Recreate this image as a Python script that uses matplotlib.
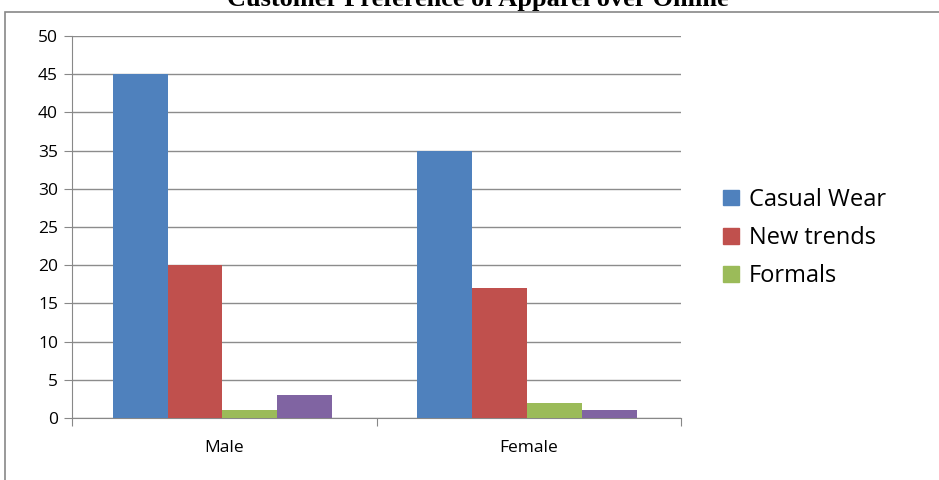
import matplotlib.pyplot as plt
from matplotlib.patches import Patch, Rectangle
import numpy as np

categories = ["Male", "Female"]
series_names = ["Casual Wear", "New trends", "Formals", ""]
casual_wear = [45, 35]
new_trends = [20, 17]
formals = [1, 2]
other = [3, 1]
colors = ["#4F81BD", "#C0504D", "#9BBB59", "#8064A2"]

plt.rcParams["font.family"] = ["Open Sans", "DejaVu Sans"]

fig = plt.figure(figsize=(9.39, 4.8), dpi=100)
ax = fig.add_axes([72 / 939, 1 - 418 / 480, (681 - 72) / 939, (418 - 36) / 480])

x = np.arange(len(categories))
w = 0.18
values = [casual_wear, new_trends, formals, other]
for i, (vals, c) in enumerate(zip(values, colors)):
    ax.bar(x + (i - 1.5) * w - 0.006, vals, w, color=c, zorder=3)

ax.set_xlim(-0.5, 1.5)
ax.set_ylim(0, 50)
ax.set_yticks(range(0, 51, 5))
ax.set_xticks([-0.5, 0.5, 1.5])
ax.set_xticklabels([])
ax.set_xticks(x, minor=True)
ax.set_xticklabels(categories, minor=True)
ax.tick_params(axis="x", which="minor", length=0, pad=16, labelsize=12.5)
ax.tick_params(axis="x", which="major", length=6, color="#888888", direction="out")
ax.tick_params(axis="y", length=6, color="#888888", labelsize=12.5, pad=4)
ax.grid(axis="y", color="#8c8c8c", lw=1, zorder=0)
for s in ["top", "right"]:
    ax.spines[s].set_visible(False)
for s in ["left", "bottom"]:
    ax.spines[s].set_color("#888888")

handles = [Patch(color=c) for c in colors[:3]]
fig.legend(handles, series_names[:3], loc="center left", bbox_to_anchor=(702 / 939, 1 - 238 / 480),
           frameon=False, fontsize=17, handlelength=0.65, handleheight=0.65,
           handletextpad=0.45, labelspacing=0.6)

fig.text(0.509, 0.988, "Customer Preference of Apparel over Online", ha="center", va="baseline",
         fontsize=19, fontweight="bold", family="Liberation Serif")
fig.patches.append(Rectangle((5 / 939, -0.1), 1.2, 1 - 12 / 480 + 0.1, transform=fig.transFigure,
                             fill=False, edgecolor="#888888", lw=1.2))

fig.savefig("out.png", dpi=100)
